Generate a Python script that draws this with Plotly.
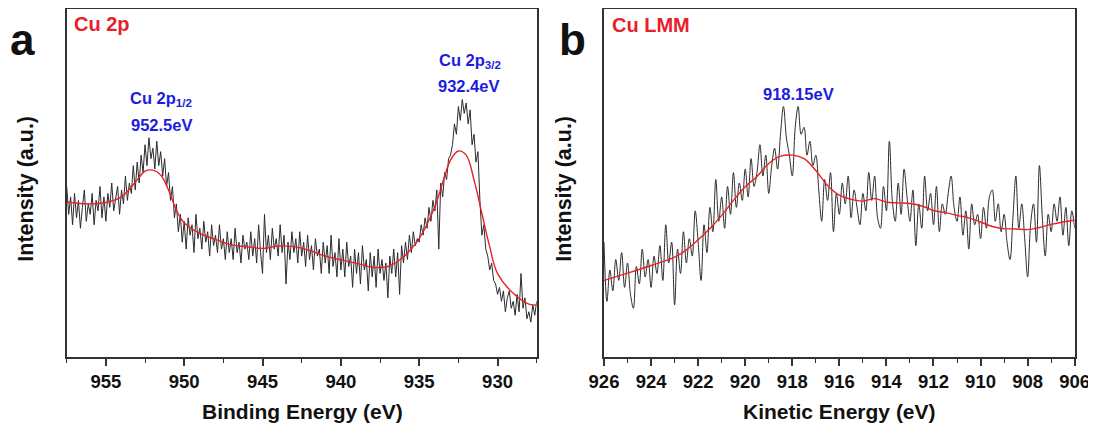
import numpy as np
import plotly.graph_objects as go

# ---------------- Panel a: Cu 2p (binding energy, eV) ----------------
# raw spectrum, sampled every 0.125 eV from 957.5 eV down to 927.5 eV (arbitrary units)
be_start, be_end = 957.5, 927.5
cu2p_raw = [
    49, 41, 46, 38,
    47, 40, 45, 37, 43, 48, 39, 44,
    41, 47, 38, 45, 42, 49, 40, 46,
    39, 47, 43, 50, 42, 46, 49, 41,
    48, 44, 52, 45, 50, 47, 55, 48,
    56, 50, 58, 53, 61, 55, 63, 57,
    60, 54, 62, 55, 59, 52, 57, 49,
    53, 45, 49, 40, 44, 36, 41, 33,
    39, 31, 40, 35, 38, 30, 41, 34,
    37, 31, 39, 33, 36, 29, 38, 32,
    35, 30, 38, 31, 34, 28, 36, 30,
    34, 28, 37, 30, 33, 27, 35, 31,
    33, 28, 36, 29, 34, 27, 38, 30,
    24, 41, 30, 35, 28, 37, 31, 34,
    29, 38, 30, 35, 21, 33, 28, 36,
    30, 34, 27, 36, 29, 33, 26, 35,
    28, 32, 25, 34, 29, 31, 24, 33,
    27, 32, 24, 35, 26, 30, 23, 34,
    25, 31, 23, 33, 26, 29, 20, 31,
    24, 30, 21, 32, 25, 28, 19, 30,
    23, 29, 20, 31, 24, 28, 22, 27,
    17, 29, 24, 31, 23, 30, 18, 32,
    27, 33, 28, 35, 30, 36, 32, 34,
    33, 38, 35, 40, 37, 43, 39, 45,
    42, 48, 31, 50, 46, 53, 51, 57,
    58, 61, 67, 64, 72, 68, 74, 70,
    73, 67, 71, 61, 64, 56, 59, 45,
    35, 38, 31, 29, 25, 27, 22, 21,
    18, 20, 16, 19, 13, 17, 19, 14,
    16, 12, 18, 13, 24, 14, 17, 11,
    13, 10, 15, 12, 16,
]
# smoothed envelope (red)
cu2p_fit_x = [957.5, 957.0, 956.0, 955.0, 954.0, 953.0, 952.5, 952.0, 951.5, 951.0,
              950.5, 950.0, 949.0, 948.0, 947.0, 946.0, 945.0, 944.0, 943.0, 942.0,
              941.0, 940.0, 939.0, 938.0, 937.0, 936.0, 935.0, 934.0, 933.0, 932.5,
              932.0, 931.5, 931.0, 930.5, 930.0, 929.0, 928.0, 927.5]
cu2p_fit_y = [44.6, 44.3, 44.0, 44.4, 46.0, 50.9, 53.4, 53.7, 52.3, 48.0,
              42.2, 38.6, 35.5, 33.8, 32.2, 31.7, 31.2, 31.9, 31.7, 30.6,
              29.0, 27.9, 26.9, 25.8, 26.0, 28.8, 34.1, 43.2, 56.6, 59.2,
              58.0, 50.9, 41.3, 31.7, 24.0, 18.3, 15.2, 14.9]

# ---------------- Panel b: Cu LMM (kinetic energy, eV) ----------------
# raw spectrum, sampled every 0.125 eV from 926 eV down to 906 eV
ke_start, ke_end = 926.0, 906.0
lmm_raw = [
    33, 16, 25, 19, 28, 22, 30, 20,
    27, 18, 14, 26, 21, 31, 23, 28,
    20, 29, 24, 32, 22, 38, 27, 33,
    15, 31, 24, 36, 27, 34, 29, 42,
    33, 22, 38, 30, 43, 36, 51, 39,
    46, 37, 49, 41, 53, 43, 50, 45,
    54, 46, 57, 49, 53, 61, 52, 58,
    47, 55, 60, 54, 64, 72, 63, 58,
    52, 66, 72, 64, 66, 58, 62, 55,
    58, 48, 39, 51, 45, 53, 36, 47,
    41, 50, 44, 52, 40, 48, 43, 38,
    47, 42, 53, 45, 52, 40, 37, 49,
    42, 62, 45, 39, 50, 41, 54, 46,
    39, 48, 32, 44, 37, 52, 42, 47,
    38, 49, 36, 44, 41, 47, 52, 43,
    39, 46, 35, 42, 31, 44, 38, 41,
    34, 43, 37, 46, 48, 39, 44, 36,
    41, 33, 28, 40, 52, 37, 44, 34,
    23, 38, 44, 33, 55, 40, 29, 41,
    36, 44, 39, 46, 35, 43, 32, 42,
    37,
]
lmm_fit_x = [926.0, 925.0, 924.0, 923.0, 922.5, 922.0, 921.5, 921.0, 920.5, 920.0,
             919.5, 919.0, 918.5, 918.0, 917.5, 917.0, 916.5, 916.0, 915.5, 915.0,
             914.5, 914.0, 913.5, 913.0, 912.5, 912.0, 911.5, 911.0, 910.5, 910.0,
             909.5, 909.0, 908.5, 908.0, 907.5, 907.0, 906.5, 906.0]
lmm_fit_y = [22.0, 24.1, 26.3, 28.7, 30.8, 33.7, 36.9, 40.7, 45.0, 48.9,
             51.9, 55.6, 57.7, 58.0, 57.0, 53.6, 49.3, 46.5, 45.3, 44.8,
             45.5, 44.5, 44.3, 44.1, 43.4, 42.1, 41.5, 40.7, 40.0, 38.8,
             37.5, 36.9, 36.8, 36.6, 37.2, 38.1, 38.8, 39.3]

FONT = "Arial, Liberation Sans, sans-serif"
OFF = 8                          # page body margin of the html page
W, H = 1096 - OFF, 427 - OFF
PLOT_TOP, PLOT_BOT = 9.3, 357.3  # in window pixels
RAW_COLOR = "#2b2b2b"
FIT_COLOR = "#e8202a"
BLUE = "#1c1ce0"
AXIS_COLOR = "#333333"


def px(x):
    return (x - OFF) / W


def py(y):
    return (PLOT_BOT - y) / (PLOT_BOT - PLOT_TOP)


fig = go.Figure()
fig.add_trace(go.Scatter(x=np.linspace(be_start, be_end, len(cu2p_raw)), y=cu2p_raw,
                         mode="lines", line=dict(color=RAW_COLOR, width=1),
                         xaxis="x", yaxis="y", showlegend=False))
fig.add_trace(go.Scatter(x=cu2p_fit_x, y=cu2p_fit_y, mode="lines",
                         line=dict(color=FIT_COLOR, width=1.4, shape="spline"),
                         xaxis="x", yaxis="y", showlegend=False))
fig.add_trace(go.Scatter(x=np.linspace(ke_start, ke_end, len(lmm_raw)), y=lmm_raw,
                         mode="lines", line=dict(color=RAW_COLOR, width=1, shape="spline"),
                         xaxis="x2", yaxis="y2", showlegend=False))
fig.add_trace(go.Scatter(x=lmm_fit_x, y=lmm_fit_y, mode="lines",
                         line=dict(color=FIT_COLOR, width=1.4, shape="spline"),
                         xaxis="x2", yaxis="y2", showlegend=False))

tickfont = dict(family=FONT, size=18.5, color="#111", weight="bold")

common_x = dict(showline=True, linecolor=AXIS_COLOR, linewidth=2, mirror=True,
                ticks="outside", ticklen=7, tickwidth=1.6, tickcolor=AXIS_COLOR,
                showgrid=False, zeroline=False, tickfont=tickfont, automargin=False)
common_y = dict(showline=True, linecolor=AXIS_COLOR, linewidth=2, mirror=True,
                ticks="", showticklabels=False, showgrid=False, zeroline=False,
                range=[0, 100], automargin=False)
minor_x = dict(ticks="outside", ticklen=4, tickwidth=1.4, tickcolor=AXIS_COLOR)

fig.update_layout(
    width=W, height=H,
    margin=dict(l=0, r=0, t=PLOT_TOP - OFF, b=H - (PLOT_BOT - OFF), autoexpand=False),
    paper_bgcolor="white", plot_bgcolor="white",
    font=dict(family=FONT),
    xaxis=dict(common_x, domain=[px(66.7), px(536.7)], range=[957.5, 927.5],
               tick0=930, dtick=5, minor=dict(minor_x, dtick=2.5, tick0=930)),
    yaxis=dict(common_y, anchor="x"),
    xaxis2=dict(common_x, domain=[px(604), px(1074.7)], range=[926, 906],
                tick0=906, dtick=2, anchor="y2", minor=dict(minor_x, dtick=1, tick0=906)),
    yaxis2=dict(common_y, anchor="x2"),
)

annotations = [
    # axis titles
    dict(text="<b>Binding Energy (eV)</b>", x=px(302), y=py(412), font=dict(size=21, color="#111")),
    dict(text="<b>Kinetic Energy (eV)</b>", x=px(839), y=py(412), font=dict(size=21, color="#111")),
    dict(text="<b>Intensity (a.u.)</b>", x=px(26), y=py(189), textangle=-90,
         font=dict(size=21.5, color="#111")),
    dict(text="<b>Intensity (a.u.)</b>", x=px(564), y=py(189), textangle=-90,
         font=dict(size=21.5, color="#111")),
    # panel letters and labels
    dict(text="<b>a</b>", x=px(22.5), y=py(40), font=dict(size=44, color="#111")),
    dict(text="<b>b</b>", x=px(572.5), y=py(40), font=dict(size=44, color="#111")),
    dict(text="<b>Cu 2p</b>", x=px(72), y=py(24.5), xanchor="left",
         font=dict(size=20, color=FIT_COLOR)),
    dict(text="<b>Cu LMM</b>", x=px(610), y=py(25.5), xanchor="left",
         font=dict(size=20, color=FIT_COLOR)),
    dict(text="<b>Cu 2p<sub>1/2</sub></b>", x=px(161), y=py(99),
         font=dict(size=16.5, color=BLUE)),
    dict(text="<b>952.5eV</b>", x=px(161), y=py(125), font=dict(size=16.5, color=BLUE)),
    dict(text="<b>Cu 2p<sub>3/2</sub></b>", x=px(469.5), y=py(61),
         font=dict(size=16.5, color=BLUE)),
    dict(text="<b>932.4eV</b>", x=px(468), y=py(86), font=dict(size=16.5, color=BLUE)),
    dict(text="<b>918.15eV</b>", x=px(798), y=py(94), font=dict(size=16.5, color=BLUE)),
]
for a in annotations:
    a.setdefault("xanchor", "center")
    a.update(xref="paper", yref="paper", yanchor="middle", showarrow=False)
    a["font"]["family"] = FONT
fig.update_layout(annotations=annotations)

fig.write_html("out.html")
